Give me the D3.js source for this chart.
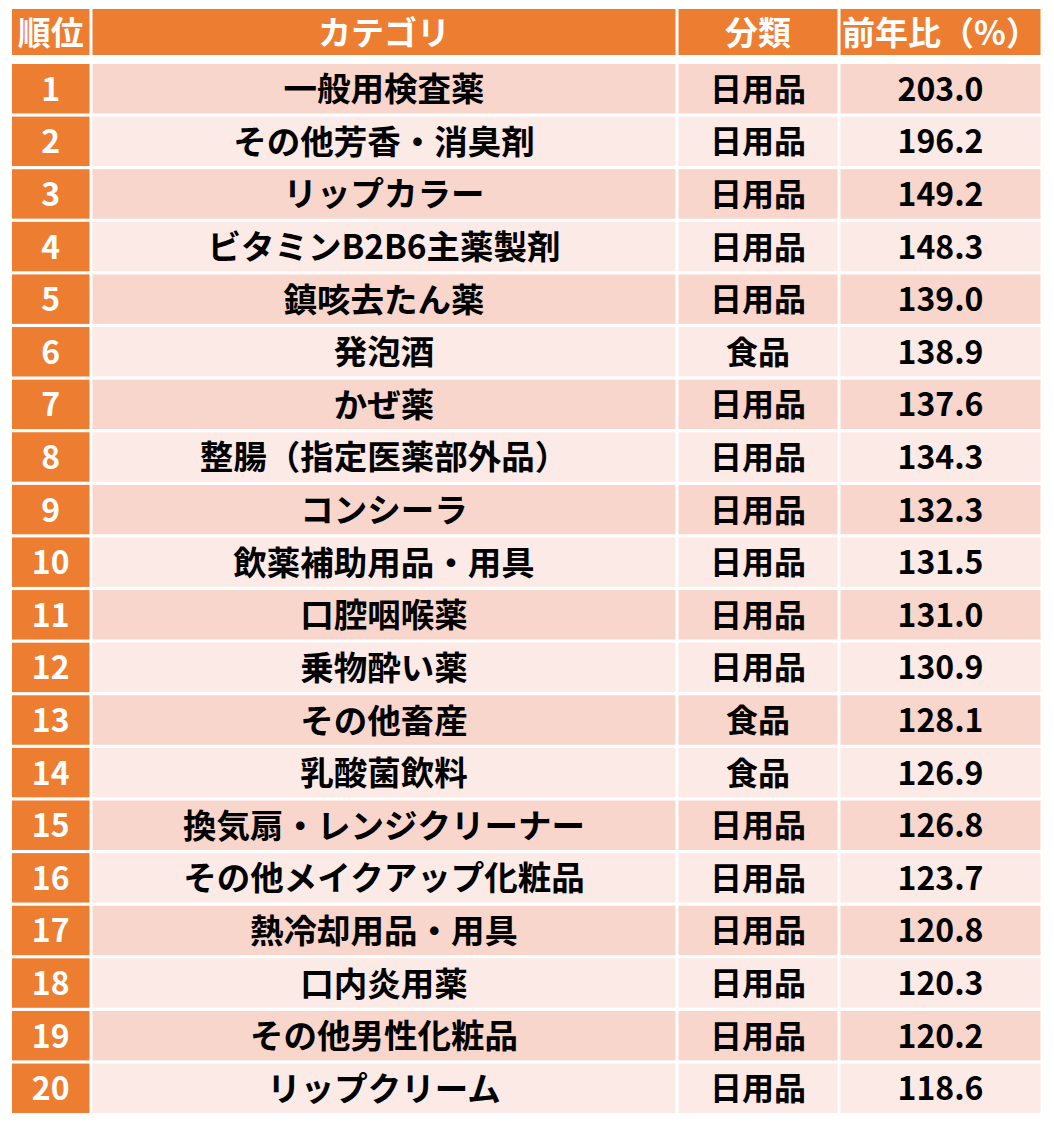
<!DOCTYPE html>
<html lang="ja">
<head>
<meta charset="UTF-8">
<title>前年比ランキング</title>
<script src="https://d3js.org/d3.v7.min.js"></script>
<style>
  body { margin: 0; background: #fff; }
  svg { font-family: 'Noto Sans CJK JP', sans-serif; font-weight: 700; }
</style>
</head>
<body>
<svg id="chart" width="1054" height="1126"></svg>
<script>
const headers = ["順位", "カテゴリ", "分類", "前年比（%）"];
const categories = ["一般用検査薬", "その他芳香・消臭剤", "リップカラー", "ビタミンB2B6主薬製剤", "鎮咳去たん薬",
  "発泡酒", "かぜ薬", "整腸（指定医薬部外品）", "コンシーラ", "飲薬補助用品・用具",
  "口腔咽喉薬", "乗物酔い薬", "その他畜産", "乳酸菌飲料", "換気扇・レンジクリーナー",
  "その他メイクアップ化粧品", "熱冷却用品・用具", "口内炎用薬", "その他男性化粧品", "リップクリーム"];
const groups = ["日用品", "日用品", "日用品", "日用品", "日用品", "食品", "日用品", "日用品", "日用品", "日用品",
  "日用品", "日用品", "食品", "食品", "日用品", "日用品", "日用品", "日用品", "日用品", "日用品"];
const ratios = [203.0, 196.2, 149.2, 148.3, 139.0, 138.9, 137.6, 134.3, 132.3, 131.5,
  131.0, 130.9, 128.1, 126.9, 126.8, 123.7, 120.8, 120.3, 120.2, 118.6];

const svg = d3.select("#chart");
const colEdges = [12, 91, 677, 839, 1042];
const gap = 3;
const orange = "#ED7D31";
const fontSizes = [32, 33.5, 32, 32];

// header
const hdr = svg.append("g");
headers.forEach((h, i) => {
  const x0 = colEdges[i] + (i ? gap / 2 : 0), x1 = colEdges[i + 1] - gap / 2;
  hdr.append("rect").attr("x", x0).attr("y", 9).attr("width", x1 - x0).attr("height", 46).attr("fill", orange);
  hdr.append("text").attr("x", (x0 + x1) / 2).attr("y", 31).attr("text-anchor", "middle")
    .attr("dominant-baseline", "central").attr("fill", "#fff").attr("font-size", 33).text(h);
});

const y = d3.scaleBand().domain(d3.range(20)).range([64, 1113]).paddingInner(0.06);

const rows = svg.append("g").selectAll("g").data(categories).join("g")
  .attr("transform", (d, i) => `translate(0,${y(i)})`);

rows.each(function (d, i) {
  const g = d3.select(this);
  const vals = [String(i + 1), d, groups[i], ratios[i].toFixed(1)];
  vals.forEach((v, c) => {
    const x0 = colEdges[c] + (c ? gap / 2 : 0), x1 = colEdges[c + 1] - gap / 2;
    const fill = c === 0 ? orange : (i % 2 === 0 ? "#F8D6CC" : "#FBEAE6");
    g.append("rect").attr("x", x0).attr("y", 0).attr("width", x1 - x0).attr("height", y.bandwidth()).attr("fill", fill);
    g.append("text").attr("x", (x0 + x1) / 2).attr("y", y.bandwidth() / 2 - 2).attr("text-anchor", "middle")
      .attr("dominant-baseline", "central").attr("fill", c === 0 ? "#fff" : "#000")
      .attr("font-size", fontSizes[c]).text(v);
  });
});
</script>
</body>
</html>
